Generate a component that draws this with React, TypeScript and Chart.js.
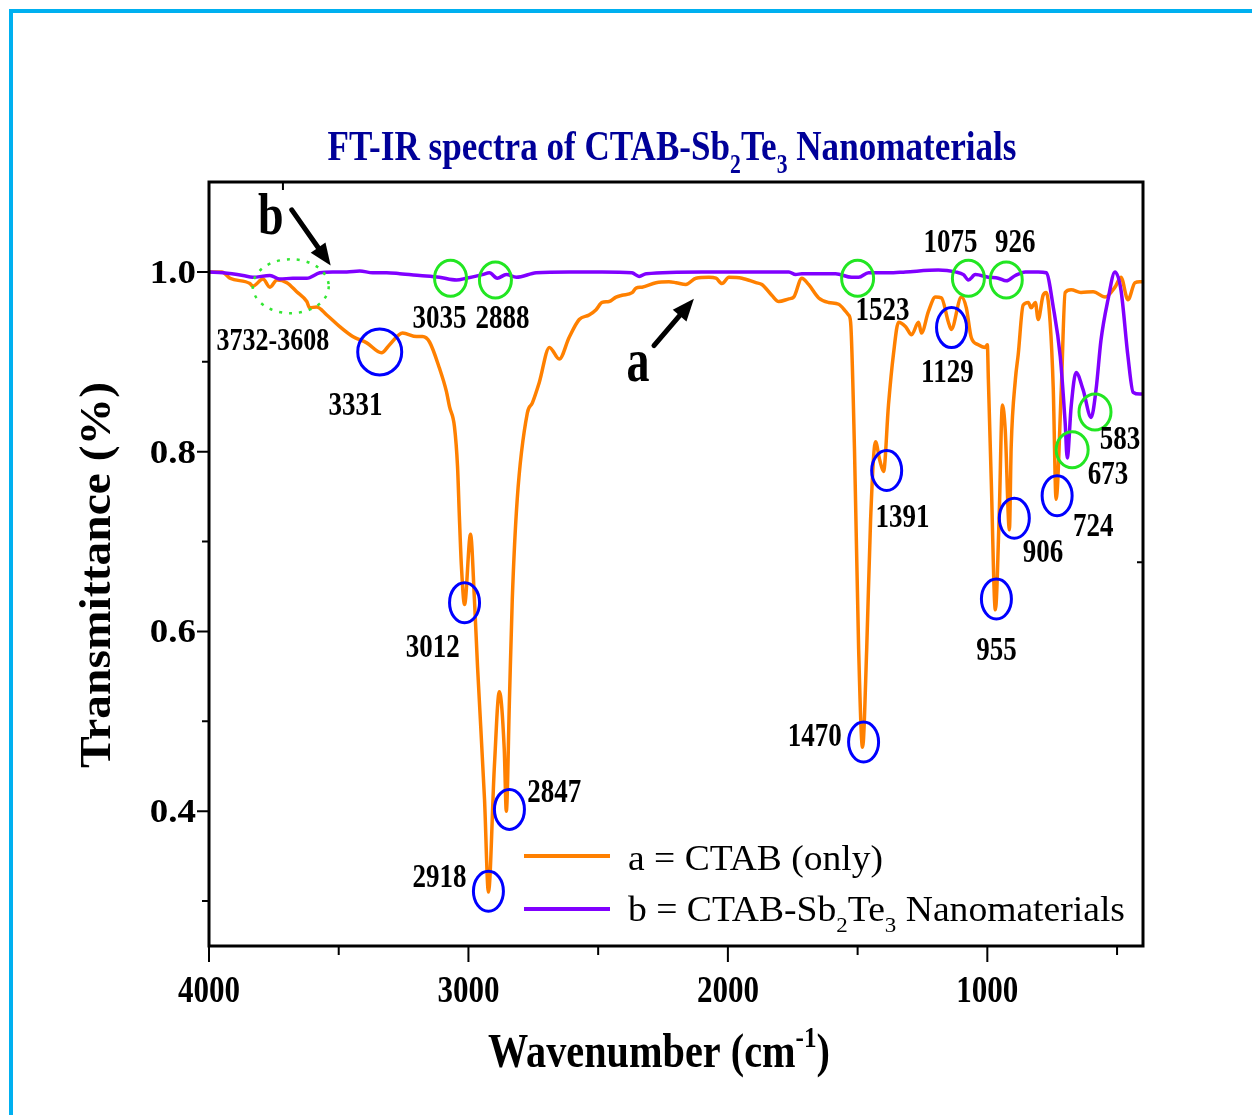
import { useEffect, useRef } from 'react';
import { Chart, registerables } from 'chart.js';

Chart.register(...registerables);

// ---------------- DATA ----------------
// a = CTAB (only)
const WAVE_A = [4000, 3950, 3919, 3842, 3831, 3792, 3765, 3738, 3700, 3662, 3623, 3612, 3585, 3546, 3496, 3446, 3392, 3335, 3304, 3254, 3200, 3177, 3150, 3112, 3085, 3073, 3054, 3042, 3035, 3027, 3015, 2992, 2977, 2965, 2938, 2923, 2900, 2881, 2862, 2854, 2842, 2831, 2812, 2773, 2754, 2727, 2688, 2650, 2612, 2573, 2535, 2508, 2485, 2458, 2431, 2408, 2369, 2354, 2331, 2277, 2227, 2200, 2162, 2123, 2073, 2046, 2023, 1996, 1946, 1892, 1869, 1831, 1804, 1765, 1746, 1715, 1689, 1650, 1612, 1573, 1546, 1535, 1527, 1512, 1496, 1481, 1465, 1450, 1431, 1415, 1400, 1381, 1362, 1342, 1315, 1292, 1265, 1254, 1227, 1200, 1177, 1150, 1139, 1100, 1081, 1062, 1035, 1008, 1000, 996, 985, 969, 954, 942, 931, 915, 908, 892, 881, 862, 842, 831, 815, 804, 785, 773, 758, 746, 735, 715, 700, 677, 639, 592, 546, 508, 485, 458, 431, 412, 400];
const TRANS_A = [1.0, 1.0, 0.993, 0.987, 0.984, 0.992, 0.983, 0.991, 0.988, 0.978, 0.967, 0.96, 0.961, 0.952, 0.939, 0.928, 0.921, 0.91, 0.919, 0.932, 0.928, 0.928, 0.922, 0.893, 0.867, 0.85, 0.828, 0.783, 0.728, 0.672, 0.63, 0.708, 0.636, 0.561, 0.413, 0.31, 0.45, 0.533, 0.469, 0.4, 0.524, 0.636, 0.747, 0.843, 0.854, 0.877, 0.916, 0.903, 0.927, 0.947, 0.952, 0.958, 0.966, 0.967, 0.972, 0.974, 0.977, 0.982, 0.983, 0.988, 0.989, 0.988, 0.986, 0.993, 0.994, 0.993, 0.987, 0.994, 0.993, 0.988, 0.986, 0.974, 0.967, 0.97, 0.972, 0.993, 0.986, 0.971, 0.966, 0.964, 0.956, 0.952, 0.944, 0.802, 0.58, 0.471, 0.58, 0.724, 0.811, 0.791, 0.778, 0.852, 0.908, 0.944, 0.939, 0.93, 0.944, 0.932, 0.956, 0.972, 0.971, 0.944, 0.936, 0.972, 0.96, 0.927, 0.919, 0.916, 0.919, 0.88, 0.769, 0.624, 0.732, 0.852, 0.824, 0.713, 0.806, 0.88, 0.908, 0.963, 0.966, 0.96, 0.966, 0.947, 0.974, 0.977, 0.944, 0.871, 0.747, 0.869, 0.977, 0.98, 0.977, 0.978, 0.972, 0.983, 0.994, 0.969, 0.988, 0.989, 0.989];

// b = CTAB-Sb2Te3 Nanomaterials
const WAVE_B = [4000, 3946, 3869, 3831, 3765, 3727, 3677, 3623, 3573, 3523, 3469, 3419, 3369, 3315, 3265, 3188, 3112, 3046, 3008, 2946, 2919, 2889, 2854, 2815, 2739, 2612, 2485, 2370, 2342, 2315, 2100, 1842, 1765, 1739, 1715, 1585, 1523, 1496, 1458, 1381, 1315, 1189, 1123, 1092, 1073, 1046, 996, 958, 927, 892, 854, 804, 773, 746, 719, 700, 692, 677, 658, 631, 600, 581, 562, 535, 508, 485, 458, 438, 412, 400];
const TRANS_B = [1.0, 0.999, 0.996, 0.994, 0.996, 0.992, 0.993, 0.993, 0.999, 1.0, 1.0, 1.001, 0.999, 0.999, 0.998, 0.996, 0.994, 0.991, 0.993, 0.997, 0.999, 0.993, 0.997, 0.994, 0.999, 1.0, 1.0, 0.999, 0.995, 0.998, 1.0, 1.0, 1.0, 0.997, 0.998, 0.998, 0.994, 0.994, 0.999, 0.999, 1.0, 1.002, 1.0, 0.997, 0.991, 0.997, 0.994, 0.993, 0.99, 0.996, 1.0, 1.0, 0.999, 0.961, 0.906, 0.832, 0.793, 0.85, 0.888, 0.869, 0.838, 0.869, 0.924, 0.969, 1.0, 0.98, 0.906, 0.866, 0.864, 0.864];

const X_MAJOR_TICKS = [4000, 3000, 2000, 1000];
const X_MINOR_TICKS = [3500, 2500, 1500, 500];
const Y_MAJOR_TICKS = [1.0, 0.8, 0.6, 0.4];
const Y_MINOR_TICKS = [0.9, 0.7, 0.5, 0.3];

const SERIES_A_LABEL = 'a = CTAB (only)';
const SERIES_B_LABEL = 'b = CTAB-Sb2Te3 Nanomaterials';

// peak markers (anchored in data units)
const BLUE_MARKS = [
  { wn: 3342, t: 0.911, big: true },
  { wn: 3015, t: 0.632 },
  { wn: 2923, t: 0.311 },
  { wn: 2842, t: 0.402 },
  { wn: 1477, t: 0.477 },
  { wn: 1388, t: 0.779 },
  { wn: 1138, t: 0.938 },
  { wn: 965, t: 0.636 },
  { wn: 896, t: 0.726 },
  { wn: 731, t: 0.751 },
];
const GREEN_MARKS = [
  { wn: 3069, t: 0.993 },
  { wn: 2896, t: 0.991 },
  { wn: 1500, t: 0.993 },
  { wn: 1073, t: 0.993 },
  { wn: 927, t: 0.991 },
  { wn: 673, t: 0.802 },
  { wn: 585, t: 0.844 },
];
const PEAK_LABELS = [
  { text: '3732-3608', wn: 3754, t: 0.913 },
  { text: '3331', wn: 3435, t: 0.841 },
  { text: '3035', wn: 3112, t: 0.938 },
  { text: '2888', wn: 2869, t: 0.938 },
  { text: '3012', wn: 3138, t: 0.571 },
  { text: '2918', wn: 3112, t: 0.316 },
  { text: '2847', wn: 2669, t: 0.41 },
  { text: '1470', wn: 1665, t: 0.472 },
  { text: '1391', wn: 1327, t: 0.716 },
  { text: '1523', wn: 1404, t: 0.947 },
  { text: '1129', wn: 1154, t: 0.877 },
  { text: '1075', wn: 1142, t: 1.022 },
  { text: '926', wn: 892, t: 1.022 },
  { text: '955', wn: 965, t: 0.568 },
  { text: '906', wn: 785, t: 0.677 },
  { text: '724', wn: 592, t: 0.706 },
  { text: '673', wn: 535, t: 0.764 },
  { text: '583', wn: 489, t: 0.803 },
];

// --------------- helpers ---------------
const FONT = '"Liberation Serif", "Times New Roman", Times, serif';
type Seg = { t: string; s?: 'sub' | 'sup' };
type RichOpts = {
  bold?: boolean;
  align?: 'left' | 'center' | 'right';
  sx?: number;
  sy?: number;
  width?: number;
  color?: string;
  rot?: number;
};

function drawRich(ctx: CanvasRenderingContext2D, segs: Seg[], x: number, y: number, size: number, o: RichOpts) {
  const bold = o.bold !== false;
  const fontFor = (seg: Seg) => `${bold ? 'bold ' : ''}${seg.s ? Math.round(size * 0.62) : size}px ${FONT}`;
  let W = 0;
  const widths = segs.map((seg) => {
    ctx.font = fontFor(seg);
    const w = ctx.measureText(seg.t).width;
    W += w;
    return w;
  });
  const sx = o.width ? o.width / W : o.sx ?? 1;
  const sy = o.sy ?? 1;
  ctx.save();
  ctx.translate(x, y);
  if (o.rot) ctx.rotate(o.rot);
  ctx.scale(sx, sy);
  ctx.fillStyle = o.color ?? '#000';
  ctx.textAlign = 'left';
  ctx.textBaseline = 'alphabetic';
  let cx = o.align === 'center' ? -W / 2 : o.align === 'right' ? -W : 0;
  segs.forEach((seg, i) => {
    ctx.font = fontFor(seg);
    const dy = seg.s === 'sub' ? size * 0.3 : seg.s === 'sup' ? -size * 0.42 : 0;
    ctx.fillText(seg.t, cx, dy);
    cx += widths[i];
  });
  ctx.restore();
}

function drawArrow(ctx: CanvasRenderingContext2D, x1: number, y1: number, x2: number, y2: number) {
  const ang = Math.atan2(y2 - y1, x2 - x1);
  const head = 22;
  const hw = 9;
  const bx = x2 - head * Math.cos(ang);
  const by = y2 - head * Math.sin(ang);
  ctx.save();
  ctx.strokeStyle = '#000';
  ctx.fillStyle = '#000';
  ctx.lineWidth = 5;
  ctx.lineCap = 'round';
  ctx.beginPath();
  ctx.moveTo(x1, y1);
  ctx.lineTo(bx, by);
  ctx.stroke();
  ctx.beginPath();
  ctx.moveTo(x2, y2);
  ctx.lineTo(bx + hw * Math.sin(ang), by - hw * Math.cos(ang));
  ctx.lineTo(bx - hw * Math.sin(ang), by + hw * Math.cos(ang));
  ctx.closePath();
  ctx.fill();
  ctx.restore();
}

function ellipse(ctx: CanvasRenderingContext2D, x: number, y: number, rx: number, ry: number) {
  ctx.beginPath();
  ctx.ellipse(x, y, rx, ry, 0, 0, Math.PI * 2);
  ctx.stroke();
}

const decorPlugin = {
  id: 'decor',
  afterDraw(chart: any) {
    const ctx: CanvasRenderingContext2D = chart.ctx;
    const { left, right, top, bottom } = chart.chartArea;
    const xs = chart.scales.x;
    const ys = chart.scales.y;
    const X = (v: number) => xs.getPixelForValue(v);
    const Y = (v: number) => ys.getPixelForValue(v);

    ctx.save();
    // page frame (light blue, top & left)
    ctx.fillStyle = '#00b0f0';
    ctx.fillRect(9, 9, chart.width - 9, 4);
    ctx.fillRect(9, 9, 4, chart.height - 9);

    // axis box
    ctx.strokeStyle = '#000';
    ctx.lineWidth = 3;
    ctx.strokeRect(left, top, right - left, bottom - top);

    // ticks
    ctx.lineWidth = 2;
    ctx.beginPath();
    X_MAJOR_TICKS.forEach((v) => { ctx.moveTo(X(v), bottom); ctx.lineTo(X(v), bottom + 16); });
    X_MINOR_TICKS.forEach((v) => { ctx.moveTo(X(v), bottom); ctx.lineTo(X(v), bottom + 9); });
    Y_MAJOR_TICKS.forEach((v) => { ctx.moveTo(left, Y(v)); ctx.lineTo(left - 12, Y(v)); });
    Y_MINOR_TICKS.forEach((v) => { ctx.moveTo(left, Y(v)); ctx.lineTo(left - 7, Y(v)); });
    // small stray ticks of the original frame
    ctx.moveTo(X(3715), top); ctx.lineTo(X(3715), top + 8);
    ctx.moveTo(right, Y(0.677)); ctx.lineTo(right - 6, Y(0.677));
    ctx.stroke();

    // tick labels
    X_MAJOR_TICKS.forEach((v) => drawRich(ctx, [{ t: String(v) }], X(v), bottom + 56, 31, { align: 'center', sy: 1.2 }));
    Y_MAJOR_TICKS.forEach((v) => drawRich(ctx, [{ t: v.toFixed(1) }], left - 13, Y(v) + 11, 33, { align: 'right', sx: 1.12, sy: 1.02 }));

    // axis titles
    drawRich(ctx, [{ t: 'Transmittance (%)' }], 110, 575, 44, { align: 'center', rot: -Math.PI / 2, width: 386 });
    drawRich(ctx, [{ t: 'Wavenumber (cm' }, { t: '-1', s: 'sup' }, { t: ')' }], 659, 1067, 40, { align: 'center', sy: 1.2, width: 342 });

    // chart title
    drawRich(
      ctx,
      [{ t: 'FT-IR spectra of CTAB-Sb' }, { t: '2', s: 'sub' }, { t: 'Te' }, { t: '3', s: 'sub' }, { t: ' Nanomaterials' }],
      672, 160, 34, { align: 'center', sy: 1.25, width: 689, color: '#000099' }
    );

    // green dotted ellipse (3732-3608 region)
    ctx.strokeStyle = '#33e633';
    ctx.lineWidth = 2.5;
    ctx.setLineDash([3, 7]);
    ellipse(ctx, X(3685), Y(0.984), 38, 27);
    ctx.setLineDash([]);

    // circles
    ctx.lineWidth = 3;
    ctx.strokeStyle = '#0000ff';
    BLUE_MARKS.forEach((m) => ellipse(ctx, X(m.wn), Y(m.t), m.big ? 22 : 15, m.big ? 23 : 20));
    ctx.strokeStyle = '#22e622';
    GREEN_MARKS.forEach((m) => ellipse(ctx, X(m.wn), Y(m.t), 16, 18));

    // peak labels
    PEAK_LABELS.forEach((p) => drawRich(ctx, [{ t: p.text }], X(p.wn), Y(p.t), p.text.length > 5 ? 26 : 27, { align: 'center', sy: 1.22 }));

    // series pointers
    drawRich(ctx, [{ t: 'b' }], X(3762), Y(1.042), 46, { align: 'center', sy: 1.3 });
    drawRich(ctx, [{ t: 'a' }], X(2346), Y(0.879), 46, { align: 'center', sy: 1.35 });
    drawArrow(ctx, X(3681), Y(1.069), X(3531), Y(1.007));
    drawArrow(ctx, X(2285), Y(0.918), X(2131), Y(0.97));

    // legend
    const ds = chart.data.datasets;
    ctx.lineWidth = 4;
    ctx.lineCap = 'butt';
    ctx.strokeStyle = ds[0].borderColor;
    ctx.beginPath(); ctx.moveTo(524, 856); ctx.lineTo(610, 856); ctx.stroke();
    ctx.strokeStyle = ds[1].borderColor;
    ctx.beginPath(); ctx.moveTo(524, 909); ctx.lineTo(610, 909); ctx.stroke();
    drawRich(ctx, [{ t: SERIES_A_LABEL }], 628, 870, 36, { bold: false, width: 255 });
    drawRich(
      ctx,
      [{ t: 'b = CTAB-Sb' }, { t: '2', s: 'sub' }, { t: 'Te' }, { t: '3', s: 'sub' }, { t: ' Nanomaterials' }],
      628, 921, 36, { bold: false, width: 497 }
    );
    ctx.restore();
  },
};

export default function App() {
  const ref = useRef<HTMLCanvasElement | null>(null);

  useEffect(() => {
    document.body.style.margin = '0';
    const canvas = ref.current;
    if (!canvas) return;
    const chart = new Chart(canvas, {
      type: 'line',
      data: {
        datasets: [
          {
            label: SERIES_A_LABEL,
            data: WAVE_A.map((w, i) => ({ x: w, y: TRANS_A[i] })),
            borderColor: '#ff8000',
            borderWidth: 3.5,
            pointRadius: 0,
            cubicInterpolationMode: 'monotone',
            order: 1,
          },
          {
            label: SERIES_B_LABEL,
            data: WAVE_B.map((w, i) => ({ x: w, y: TRANS_B[i] })),
            borderColor: '#8000ff',
            borderWidth: 3.5,
            pointRadius: 0,
            cubicInterpolationMode: 'monotone',
            order: 0,
          },
        ],
      },
      options: {
        responsive: false,
        animation: false,
        devicePixelRatio: 1,
        events: [],
        layout: { padding: { left: 209, top: 182, right: 109, bottom: 169 } },
        scales: {
          x: { type: 'linear', reverse: true, min: 400, max: 4000, display: false },
          y: { type: 'linear', min: 0.25, max: 1.1, display: false },
        },
        plugins: {
          legend: { display: false },
          title: { display: false },
          tooltip: { enabled: false },
        },
      } as any,
      plugins: [decorPlugin],
    });
    return () => chart.destroy();
  }, []);

  return (
    <div style={{ position: 'relative', width: 1252, height: 1115, background: '#fff' }}>
      <canvas ref={ref} width={1252} height={1115} style={{ display: 'block' }} />
    </div>
  );
}
